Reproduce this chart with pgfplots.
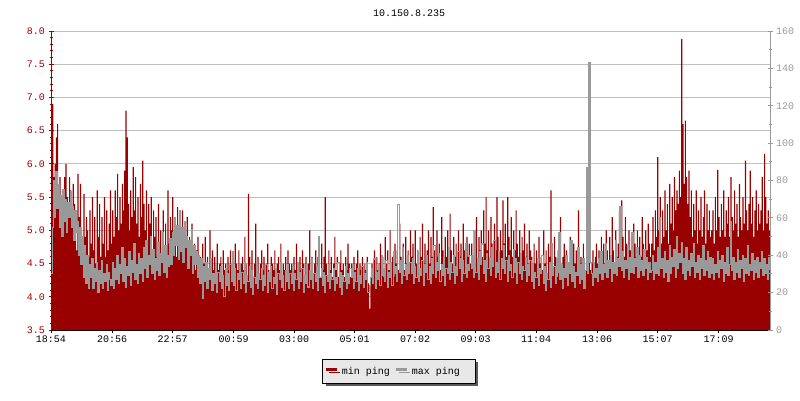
\documentclass[border=0pt]{standalone}
\usepackage{fontspec}
\setmainfont{Liberation Mono}
\usepackage{pgfplots}
\pgfplotsset{compat=1.18}
\usepackage{pgfplotstable}
\usetikzlibrary{shadows}
\definecolor{myred}{RGB}{153,0,0}
\definecolor{mygrey}{RGB}{153,153,153}
\definecolor{gridgrey}{RGB}{192,192,192}
\definecolor{legfill}{RGB}{232,232,232}
\definecolor{shadowgrey}{RGB}{90,90,90}

% columns: mn = min ping (left axis), mx = max ping (right axis); one sample every 0.04 h from 18:54
\pgfplotstableread[row sep=\\]{
mn mx\\
5.2 30\\ 6.9 55\\ 5.8 80\\ 6.0 60\\ 6.4 85\\ 6.6 65\\ 5.4 78\\ 5.8 55\\ 5.2 72\\ 5.6 50\\
5.0 75\\ 5.8 58\\ 6.0 70\\ 5.5 52\\ 5.2 68\\ 5.8 60\\ 5.6 74\\ 5.1 55\\ 5.7 66\\ 5.4 48\\
5.3 64\\ 4.7 52\\ 5.85 58\\ 5.2 40\\ 5.7 55\\ 5.0 35\\ 4.6 50\\ 5.55 28\\ 4.9 45\\ 5.2 25\\
5.0 40\\ 4.6 22\\ 5.3 35\\ 4.8 28\\ 5.5 38\\ 4.7 22\\ 5.2 33\\ 4.5 26\\ 5.6 36\\ 4.9 20\\
5.4 32\\ 4.6 25\\ 5.2 37\\ 4.8 22\\ 5.5 30\\ 4.6 26\\ 5.3 35\\ 4.7 21\\ 5.1 31\\ 5.6 27\\
4.8 24\\ 5.3 36\\ 4.9 22\\ 5.6 33\\ 5.2 27\\ 5.85 40\\ 5.0 25\\ 5.5 35\\ 5.1 30\\ 5.7 44\\
5.3 26\\ 5.9 38\\ 6.8 23\\ 6.4 34\\ 5.4 29\\ 5.0 42\\ 5.6 24\\ 5.2 37\\ 5.95 31\\ 5.3 46\\
5.8 27\\ 5.1 35\\ 5.5 25\\ 4.9 41\\ 5.7 30\\ 5.2 38\\ 6.05 26\\ 5.4 44\\ 5.0 33\\ 5.6 48\\
4.8 28\\ 5.4 40\\ 5.1 35\\ 5.5 50\\ 4.7 30\\ 5.3 43\\ 4.9 27\\ 5.2 38\\ 4.6 32\\ 5.4 47\\
4.8 29\\ 5.0 41\\ 4.6 36\\ 5.3 52\\ 4.7 31\\ 5.1 45\\ 4.5 28\\ 5.6 40\\ 4.8 34\\ 5.2 49\\
5.0 35\\ 5.5 52\\ 4.8 40\\ 5.2 60\\ 4.6 45\\ 5.35 56\\ 4.9 38\\ 5.1 64\\ 4.7 42\\ 5.3 55\\
4.6 36\\ 5.0 58\\ 4.8 44\\ 5.2 50\\ 4.5 33\\ 4.9 48\\ 4.7 40\\ 5.1 54\\ 4.5 30\\ 4.8 45\\
4.4 35\\ 4.7 42\\ 4.9 28\\ 4.5 40\\ 4.6 25\\ 4.3 38\\ 4.8 17\\ 4.5 34\\ 4.9 26\\ 4.4 36\\
4.6 22\\ 4.3 33\\ 5.0 27\\ 4.5 38\\ 4.7 21\\ 4.4 30\\ 4.6 25\\ 4.3 35\\ 4.8 20\\ 4.4 31\\
4.5 26\\ 4.6 34\\ 4.3 22\\ 4.7 29\\ 4.4 18\\ 4.5 33\\ 4.3 24\\ 4.6 30\\ 4.4 21\\ 4.7 35\\
4.4 26\\ 4.6 42\\ 4.3 24\\ 4.8 33\\ 4.5 21\\ 4.4 30\\ 4.7 27\\ 4.3 35\\ 4.5 22\\ 4.6 31\\
4.4 25\\ 4.9 36\\ 4.5 20\\ 4.3 29\\ 5.55 26\\ 4.6 34\\ 4.4 23\\ 4.7 32\\ 4.3 19\\ 4.5 28\\
5.1 25\\ 4.4 36\\ 4.6 22\\ 4.3 30\\ 4.5 27\\ 4.7 33\\ 4.4 21\\ 4.6 29\\ 4.3 24\\ 4.5 35\\
4.8 20\\ 4.4 31\\ 4.3 26\\ 4.6 34\\ 4.5 22\\ 4.4 28\\ 4.7 25\\ 4.3 33\\ 4.5 19\\ 4.6 30\\
4.4 27\\ 4.8 36\\ 4.3 23\\ 4.5 29\\ 4.4 21\\ 4.6 32\\ 4.3 26\\ 4.7 35\\ 4.5 22\\ 4.4 30\\
4.5 25\\ 4.3 34\\ 4.6 21\\ 4.4 30\\ 4.8 27\\ 4.5 36\\ 4.3 22\\ 4.6 31\\ 4.4 26\\ 4.7 33\\
4.5 20\\ 4.3 29\\ 4.6 25\\ 4.4 35\\ 4.5 23\\ 5.0 32\\ 4.4 27\\ 4.6 38\\ 4.3 22\\ 4.5 30\\
4.7 26\\ 4.4 34\\ 4.6 21\\ 4.5 50\\ 4.3 28\\ 4.8 33\\ 4.4 24\\ 4.6 31\\ 5.5 20\\ 4.5 29\\
4.3 26\\ 4.7 35\\ 4.4 22\\ 4.6 30\\ 4.3 27\\ 4.5 33\\ 4.9 21\\ 4.4 28\\ 4.6 25\\ 4.3 36\\
4.5 23\\ 4.7 31\\ 4.4 19\\ 4.5 29\\ 4.3 26\\ 4.6 34\\ 4.4 22\\ 4.8 30\\ 4.5 25\\ 4.3 33\\
4.5 28\\ 4.3 35\\ 4.6 22\\ 4.4 31\\ 4.5 26\\ 4.7 33\\ 4.3 21\\ 4.5 29\\ 4.4 25\\ 4.6 34\\
4.3 23\\ 4.5 30\\ 4.4 27\\ 4.6 36\\ 4.2 20\\ 3.82 24\\ 4.3 28\\ 4.5 33\\ 4.4 25\\ 4.7 38\\
4.3 22\\ 4.6 31\\ 4.4 27\\ 4.5 35\\ 4.8 24\\ 4.4 40\\ 4.6 29\\ 4.3 33\\ 4.9 26\\ 4.5 37\\
4.7 23\\ 4.4 31\\ 5.0 28\\ 4.5 36\\ 4.6 24\\ 4.3 42\\ 4.8 30\\ 4.5 34\\ 4.7 26\\ 4.4 67\\
5.1 31\\ 4.6 37\\ 4.5 25\\ 4.8 44\\ 4.4 29\\ 4.9 35\\ 4.5 27\\ 4.7 40\\ 4.4 30\\ 5.0 36\\
4.6 30\\ 4.8 38\\ 4.4 25\\ 5.0 34\\ 4.5 28\\ 4.7 42\\ 4.4 26\\ 4.9 33\\ 4.6 29\\ 5.1 37\\
4.5 24\\ 4.8 35\\ 4.4 31\\ 4.7 40\\ 5.0 27\\ 4.5 34\\ 4.9 25\\ 4.6 38\\ 5.35 30\\ 4.7 45\\
4.5 28\\ 5.0 36\\ 4.6 32\\ 4.8 41\\ 4.4 26\\ 5.2 35\\ 4.7 29\\ 4.5 39\\ 4.9 24\\ 4.6 33\\
5.0 30\\ 4.5 44\\ 5.25 27\\ 4.7 36\\ 4.5 31\\ 4.9 40\\ 4.6 25\\ 4.8 34\\ 4.4 29\\ 5.0 42\\
4.6 33\\ 4.8 38\\ 4.5 26\\ 5.1 37\\ 4.7 30\\ 4.5 46\\ 4.9 28\\ 4.6 35\\ 4.8 32\\ 4.5 40\\
4.8 33\\ 4.6 40\\ 5.0 28\\ 4.7 53\\ 5.2 31\\ 4.5 38\\ 4.9 27\\ 4.7 42\\ 5.0 35\\ 4.6 46\\
5.3 30\\ 4.8 37\\ 5.5 26\\ 4.7 41\\ 5.0 33\\ 4.6 39\\ 5.2 29\\ 4.8 44\\ 4.6 34\\ 5.1 48\\
4.7 28\\ 5.5 36\\ 4.9 31\\ 4.6 42\\ 5.0 27\\ 4.7 38\\ 5.45 33\\ 4.8 45\\ 5.1 30\\ 4.6 37\\
5.5 26\\ 4.9 40\\ 4.7 32\\ 5.2 35\\ 4.6 28\\ 5.0 43\\ 4.7 31\\ 5.3 38\\ 4.8 25\\ 4.6 36\\
5.0 30\\ 4.5 41\\ 4.9 27\\ 4.7 34\\ 5.1 32\\ 4.6 39\\ 4.8 26\\ 4.5 35\\ 5.0 29\\ 4.7 37\\
4.6 26\\ 4.4 35\\ 4.8 22\\ 4.5 31\\ 4.7 28\\ 4.3 38\\ 4.9 24\\ 4.5 33\\ 4.6 30\\ 4.4 40\\
5.0 25\\ 4.5 34\\ 4.7 21\\ 4.3 30\\ 4.8 27\\ 4.6 36\\ 5.6 23\\ 4.5 46\\ 4.4 29\\ 4.9 34\\
4.6 25\\ 4.3 38\\ 4.7 31\\ 4.5 52\\ 5.2 27\\ 4.4 35\\ 4.6 22\\ 4.8 33\\ 4.3 28\\ 4.7 40\\
4.5 24\\ 4.4 36\\ 4.9 30\\ 4.6 48\\ 4.3 26\\ 4.8 34\\ 4.5 23\\ 4.7 31\\ 4.4 29\\ 5.3 44\\
4.5 25\\ 4.6 35\\ 4.3 27\\ 4.8 38\\ 4.5 22\\ 4.4 32\\ 4.7 87\\ 4.5 30\\ 4.6 143\\ 4.4 36\\
4.5 30\\ 4.7 24\\ 4.4 36\\ 4.6 28\\ 4.8 33\\ 4.5 26\\ 4.7 38\\ 4.4 30\\ 4.9 42\\ 4.6 27\\
4.8 35\\ 4.5 31\\ 5.0 46\\ 4.7 28\\ 4.5 37\\ 4.9 33\\ 4.6 40\\ 5.2 26\\ 4.7 36\\ 4.5 30\\
5.0 48\\ 4.6 29\\ 4.8 38\\ 5.3 34\\ 4.7 66\\ 5.45 32\\ 4.9 42\\ 4.6 28\\ 5.2 37\\ 4.8 33\\
4.6 45\\ 5.0 27\\ 4.7 39\\ 4.9 31\\ 4.6 52\\ 5.1 30\\ 4.8 38\\ 4.6 34\\ 5.0 44\\ 4.7 28\\
4.9 40\\ 4.6 32\\ 5.2 37\\ 4.8 29\\ 4.6 43\\ 5.0 33\\ 4.7 39\\ 5.1 27\\ 4.8 36\\ 4.6 31\\
4.8 32\\ 5.2 40\\ 4.7 27\\ 5.3 36\\ 4.9 30\\ 6.1 44\\ 5.0 29\\ 5.5 60\\ 4.8 33\\ 5.3 38\\
4.9 28\\ 5.6 42\\ 5.0 31\\ 5.4 37\\ 4.8 26\\ 5.7 45\\ 5.1 30\\ 5.5 39\\ 5.0 34\\ 5.8 43\\
5.3 28\\ 5.6 50\\ 5.4 33\\ 5.9 41\\ 5.5 36\\ 7.88 47\\ 6.6 30\\ 5.7 38\\ 6.65 27\\ 5.8 44\\
5.4 32\\ 5.9 37\\ 5.2 29\\ 5.6 41\\ 4.9 34\\ 5.4 46\\ 5.0 28\\ 5.6 36\\ 4.8 31\\ 5.3 40\\
5.0 27\\ 5.5 38\\ 4.9 33\\ 5.2 45\\ 5.6 29\\ 4.8 37\\ 5.4 32\\ 5.0 42\\ 5.3 28\\ 4.9 39\\
5.0 30\\ 5.3 38\\ 4.8 27\\ 5.5 35\\ 5.0 31\\ 5.91 42\\ 5.2 28\\ 4.9 37\\ 5.4 33\\ 5.0 40\\
5.6 26\\ 4.9 36\\ 5.3 30\\ 5.1 44\\ 5.5 29\\ 4.9 35\\ 5.8 58\\ 5.2 32\\ 5.0 39\\ 5.6 27\\
5.1 36\\ 5.4 31\\ 4.9 43\\ 5.7 28\\ 5.2 37\\ 5.0 33\\ 5.5 40\\ 5.1 26\\ 6.05 38\\ 5.3 30\\
5.0 45\\ 5.4 29\\ 5.9 35\\ 5.1 32\\ 5.5 41\\ 4.9 27\\ 5.3 37\\ 5.6 31\\ 5.0 39\\ 5.4 28\\
5.1 36\\ 5.3 33\\ 5.8 42\\ 5.0 29\\ 6.15 38\\ 5.5 30\\ 5.1 35\\ 5.3 27\\ 5.0 39\\ 5.2 32\\
}\pingdata

\pgfplotsset{
  common/.style={
    at={(51pt,70pt)}, anchor=south west,
    scale only axis, width=719pt, height=299pt,
    xmin=0, xmax=23.96,
    tick align=inside, major tick length=5pt, minor tick length=3pt,
    axis line style={-},
    every tick label/.append style={font=\fontsize{10}{12}\selectfont},
    /pgf/number format/assume math mode=true,
    clip=true,
  },
}

\begin{document}
\begin{tikzpicture}
\useasboundingbox (0,0) rectangle (800pt,400pt);
\begin{axis}[common,
  ymin=3.5, ymax=8.0,
  axis x line=bottom, axis y line=left,
  x axis line style={-, draw=black, line width=1pt},
  y axis line style={-, draw=myred, line width=1pt},
  xtick={0,2.0333,4.05,6.0833,8.1,10.1167,12.1333,14.15,16.1667,18.2,20.2167,22.25},
  xticklabels={18:54,20:56,22:57,00:59,03:00,05:01,07:02,09:03,11:04,13:06,15:07,17:09},
  xtick style={draw=black, line width=1pt},
  ytick={3.5,4.0,4.5,5.0,5.5,6.0,6.5,7.0,7.5,8.0},
  minor y tick num=4,
  ytick style={draw=myred, line width=1pt},
  minor y tick style={draw=myred, line width=1pt},
  yticklabel style={text=myred, /pgf/number format/.cd, fixed, fixed zerofill, precision=1},
  ymajorgrids, grid style={draw=gridgrey, line width=1pt},
  title={10.150.8.235},
  title style={at={(axis description cs:0.498,1.04)}, anchor=center, font=\fontsize{10}{12}\selectfont},
  legend columns=-1,
  legend style={at={(axis description cs:0.484,-0.138)}, anchor=center,
    fill=legfill, draw=black, line width=1pt,
    drop shadow={shadow xshift=3pt, shadow yshift=-3pt, fill=shadowgrey, opacity=1},
    font=\fontsize{10}{12}\selectfont, inner xsep=2pt, inner ysep=5.5pt,
    /tikz/every even column/.append style={column sep=3pt}},
  legend image code/.code={\draw[#1, line width=3pt] (0pt,2pt) -- (11pt,2pt); \path (13pt,2pt);},
]
\addplot[const plot, fill=myred, draw=none, forget plot]
  table[x expr=\coordindex*0.04, y=mn]{\pingdata} \closedcycle;
\addlegendimage{myred}
\addlegendentry{min ping}
\addlegendimage{mygrey}
\addlegendentry{max ping\hspace*{11pt}}
\end{axis}
\begin{axis}[common,
  ymin=0, ymax=160,
  axis x line=none, axis y line=right,
  y axis line style={-, draw=mygrey, line width=1pt},
  ytick={0,20,...,160}, minor y tick num=1,
  ytick style={draw=mygrey, line width=1pt},
  minor y tick style={draw=mygrey, line width=1pt},
  yticklabel style={text=mygrey},
]
\addplot[const plot, draw=mygrey, line width=1.1pt]
  table[x expr=\coordindex*0.04, y=mx]{\pingdata};
\end{axis}
\end{tikzpicture}
\end{document}
